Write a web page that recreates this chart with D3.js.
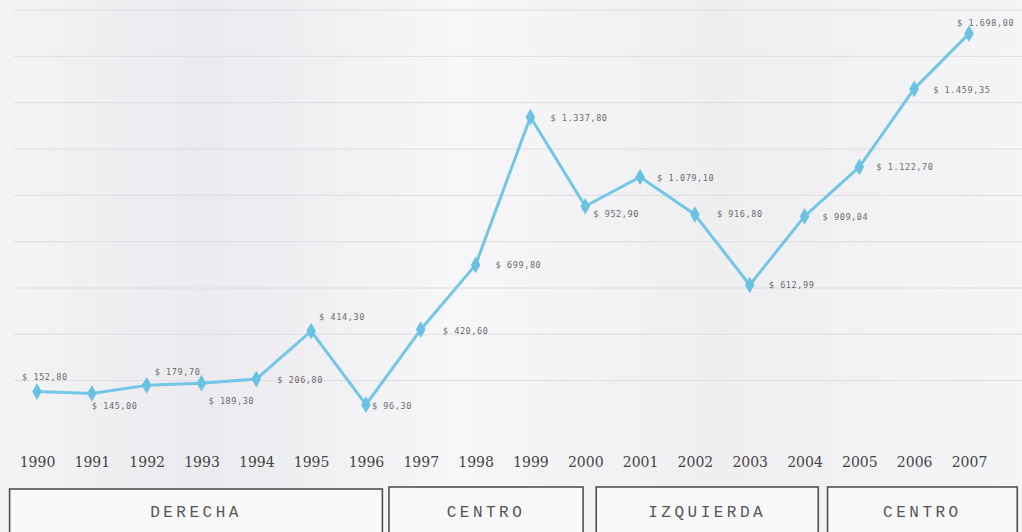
<!DOCTYPE html>
<html><head><meta charset="utf-8">
<script src="https://cdn.jsdelivr.net/npm/d3@7"></script>
<style>html,body{margin:0;padding:0;background:#f2f2f4;}svg{display:block;}</style>
</head><body>
<svg id="c" width="1022" height="532"></svg>
<script>
// ---- data ----
const years = [1990,1991,1992,1993,1994,1995,1996,1997,1998,1999,2000,2001,2002,2003,2004,2005,2006,2007];
const values = [152.80,145.00,179.70,189.30,206.80,414.30,96.30,420.60,699.80,1337.80,952.90,1079.10,916.80,612.99,909.04,1122.70,1459.35,1698.00];
const valueLabels = ["$ 152,80","$ 145,00","$ 179,70","$ 189,30","$ 206,80","$ 414,30","$ 96,30","$ 420,60","$ 699,80","$ 1.337,80","$ 952,90","$ 1.079,10","$ 916,80","$ 612,99","$ 909,04","$ 1.122,70","$ 1.459,35","$ 1.698,00"];
const periodNames = ["DERECHA","CENTRO","IZQUIERDA","CENTRO"];
const periodStart = [1989.5, 1996.42, 2000.2, 2004.42];
const periodEnd   = [1996.3, 1999.96, 2004.25, 2007.88];
const yTicks = [0,200,400,600,800,1000,1200,1400,1600,1800];

// ---- label placement (style, not data) ----
const labelOffsets = [[-15,-12],[0,16],[8,-10],[7,21],[21,4],[8,-11],[6,4],[22,4],[20,3],[20,4],[8,11],[17,4],[22,2],[19,3],[18,4],[17,3],[19,4],[-12,-8]];

const svg = d3.select("#c");
const W = 1022, H = 532;

const defs = svg.append("defs");
const g1 = defs.append("linearGradient").attr("id","bg").attr("x1","0").attr("x2","1");
g1.append("stop").attr("offset","0").attr("stop-color","#f4f4f6");
g1.append("stop").attr("offset","0.2").attr("stop-color","#ebebef");
g1.append("stop").attr("offset","0.45").attr("stop-color","#f7f7f9");
g1.append("stop").attr("offset","0.7").attr("stop-color","#efeff2");
g1.append("stop").attr("offset","1").attr("stop-color","#f5f5f7");
svg.append("rect").attr("width",W).attr("height",H).attr("fill","url(#bg)");

const x = d3.scaleLinear().domain([1990,2007]).range([37,969]);
const y = d3.scaleLinear().domain([0,1800]).range([427,10]);

// gridlines
svg.append("g").selectAll("line").data(yTicks.slice(1)).join("line")
  .attr("x1",14).attr("x2",W).attr("y1",d=>y(d)).attr("y2",d=>y(d))
  .attr("stroke","#dcdce2").attr("stroke-width",1);

// line
const line = d3.line().x((d,i)=>x(years[i])).y(d=>y(d));
svg.append("path").datum(values).attr("d",line)
  .attr("fill","none").attr("stroke","#72c6e6").attr("stroke-width",3).attr("stroke-linejoin","round");

// markers
svg.append("g").selectAll("path").data(values).join("path")
  .attr("transform",(d,i)=>`translate(${x(years[i])},${y(d)})`)
  .attr("d",d3.symbol().type(d3.symbolDiamond).size(80))
  .attr("fill","#69c2e4");

// value labels
svg.append("g").selectAll("text").data(values).join("text")
  .attr("x",(d,i)=>x(years[i])+labelOffsets[i][0])
  .attr("y",(d,i)=>y(d)+labelOffsets[i][1])
  .attr("font-family","'DejaVu Sans Mono', monospace")
  .attr("font-size",8.5).attr("letter-spacing",0.6)
  .attr("fill","#6a6a6a")
  .text((d,i)=>valueLabels[i]);

// x axis (years)
const xAxis = d3.axisBottom(x).tickValues(years).tickFormat(d3.format("d")).tickSize(0).tickPadding(0);
const ax = svg.append("g").attr("transform","translate(0,457)").call(xAxis);
ax.select(".domain").remove();
ax.selectAll("text").attr("font-family","'DejaVu Serif', serif").attr("font-size",14).attr("fill","#444");

// period boxes
const pb = svg.append("g").selectAll("g").data(periodNames).join("g");
pb.append("rect")
  .attr("x",(d,i)=>x(periodStart[i])).attr("y",(d,i)=> i===0?489:487)
  .attr("width",(d,i)=>x(periodEnd[i])-x(periodStart[i])).attr("height",60)
  .attr("fill","#f9f9fb").attr("stroke","#505050").attr("stroke-width",1.6);
pb.append("text")
  .attr("x",(d,i)=>(x(periodStart[i])+x(periodEnd[i]))/2).attr("y",517)
  .attr("text-anchor","middle")
  .attr("font-family","'Liberation Mono', 'Courier New', monospace")
  .attr("font-size",16).attr("letter-spacing",3.5)
  .attr("fill","#555")
  .text(d=>d);
</script>
</body></html>
